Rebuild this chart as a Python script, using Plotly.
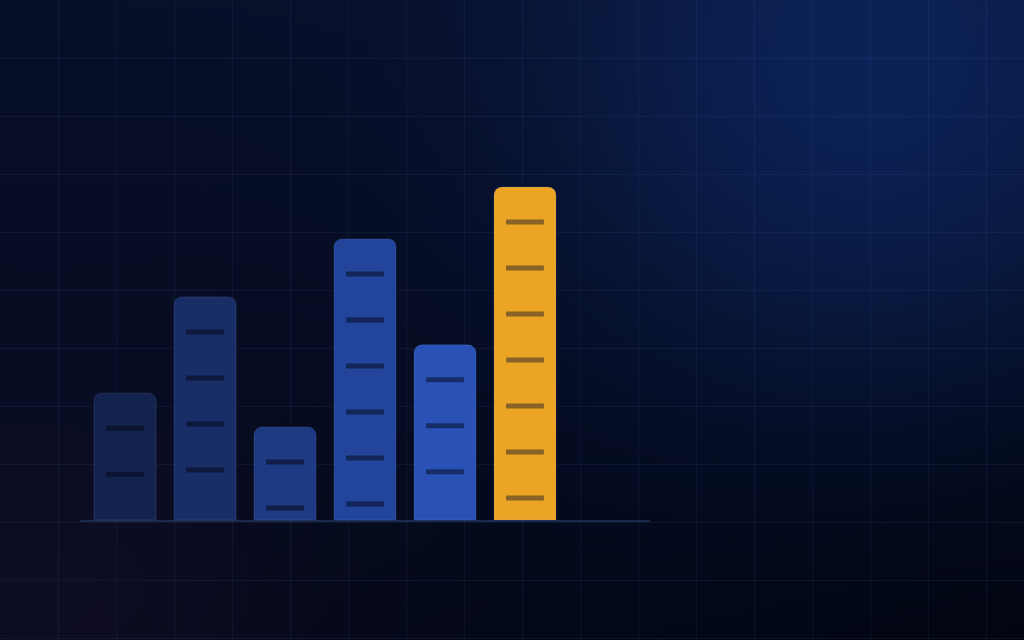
import base64, struct, zlib
import numpy as np
import plotly.graph_objects as go

# ---------------- data ----------------
categories = ["A", "B", "C", "D", "E", "F"]
values = [38.1, 67.0, 27.9, 84.4, 52.6, 100.0]
bar_colors = ["#14234d", "#192e66", "#1e3a82", "#23449b", "#2a52b6", "#eba423"]
dash_colors = ["rgba(6,12,34,0.65)", "rgba(6,12,34,0.6)", "rgba(6,12,34,0.6)",
               "rgba(6,12,34,0.55)", "rgba(6,14,40,0.55)", "rgba(70,55,40,0.6)"]

# ---------------- geometry (pixel -> data mapping) ----------------
W, H = 1024, 640
SX = 80.0          # px per category step
CX0 = 125.0        # px of first bar center
SY = 3.33          # px per value unit
BASE_PX = 520.0    # baseline, px from top
x0 = -CX0 / SX
x1 = x0 + W / SX
y0 = -(H - BASE_PX) / SY
y1 = y0 + H / SY

# ---------------- background image ----------------
def make_bg(w=256, h=160):
    xs = (np.arange(w) + 0.5) * W / w
    ys = (np.arange(h) + 0.5) * H / h
    X, Y = np.meshgrid(xs, ys)
    top = np.array([8, 16, 42], float)
    bot = np.array([3, 8, 24], float)
    t = (Y / H)[..., None]
    img = top * (1 - t) + bot * t
    d1 = np.hypot(X - 870, Y - 90)
    img += np.array([5, 20, 48], float) * np.exp(-(d1 / 310.0) ** 2)[..., None]
    d2 = np.hypot(X - 30, Y - 660)
    img += np.array([11, 5, 11], float) * np.exp(-(d2 / 280.0) ** 2)[..., None]
    d3 = np.hypot(X - 1024, Y - 640)
    img -= np.array([1, 3, 8], float) * np.exp(-(d3 / 300.0) ** 2)[..., None]
    img = np.clip(img, 0, 255).astype(np.uint8)
    raw = b"".join(b"\x00" + img[r].tobytes() for r in range(h))
    def chunk(tag, data):
        c = struct.pack(">I", len(data)) + tag + data
        return c + struct.pack(">I", zlib.crc32(tag + data) & 0xffffffff)
    png = b"\x89PNG\r\n\x1a\n" + chunk(b"IHDR", struct.pack(">IIBBBBB", w, h, 8, 2, 0, 0, 0)) \
        + chunk(b"IDAT", zlib.compress(raw, 9)) + chunk(b"IEND", b"")
    return "data:image/png;base64," + base64.b64encode(png).decode()

xs = list(range(len(categories)))

fig = go.Figure()
fig.add_trace(go.Bar(
    x=xs, y=values, width=62 / SX,
    marker=dict(color=bar_colors, cornerradius=8,
                line=dict(color="rgba(130,160,235,0.16)", width=1)),
    hoverinfo="skip", text=categories, textposition="none",
))

# dash markers inside each bar, spaced down from the top
off, step, minv = 35 / SY, 46 / SY, 9 / SY
for i, v in enumerate(values):
    ys_d = []
    y = v - off
    while y > minv:
        ys_d.append(y)
        y -= step
    fig.add_trace(go.Scatter(
        x=[i] * len(ys_d), y=ys_d, mode="markers", hoverinfo="skip",
        marker=dict(symbol="line-ew", size=27, line=dict(color=dash_colors[i], width=5)),
    ))

fig.add_shape(type="line", xref="paper", yref="y", x0=80 / W, x1=650 / W, y0=-0.3, y1=-0.3,
              line=dict(color="#1b2a4c", width=2), layer="below")

fig.add_layout_image(dict(source=make_bg(), xref="paper", yref="paper", x=0, y=1,
                          sizex=1, sizey=1, sizing="stretch", layer="below", xanchor="left", yanchor="top"))

grid = "rgba(100,130,210,0.09)"
fig.update_layout(
    width=W, height=H, margin=dict(l=0, r=0, t=0, b=0),
    paper_bgcolor="#060d24", plot_bgcolor="rgba(0,0,0,0)",
    showlegend=False, hovermode=False, barmode="overlay",
    xaxis=dict(range=[x0, x1], showgrid=True, gridcolor=grid, gridwidth=1,
               tick0=x0, dtick=58 / SX, showticklabels=False, zeroline=False, fixedrange=True),
    yaxis=dict(range=[y0, y1], showgrid=True, gridcolor=grid, gridwidth=1,
               tick0=y0 + 2 / SY, dtick=58 / SY, showticklabels=False, zeroline=False, fixedrange=True),
)
fig.write_html("out.html", config={"displayModeBar": False})

with open("out.html", "r", encoding="utf-8") as f:
    html = f.read()
html = html.replace("<body>", '<body style="margin:0;padding:0;background:#060d24;overflow:hidden">', 1)
with open("out.html", "w", encoding="utf-8") as f:
    f.write(html)
